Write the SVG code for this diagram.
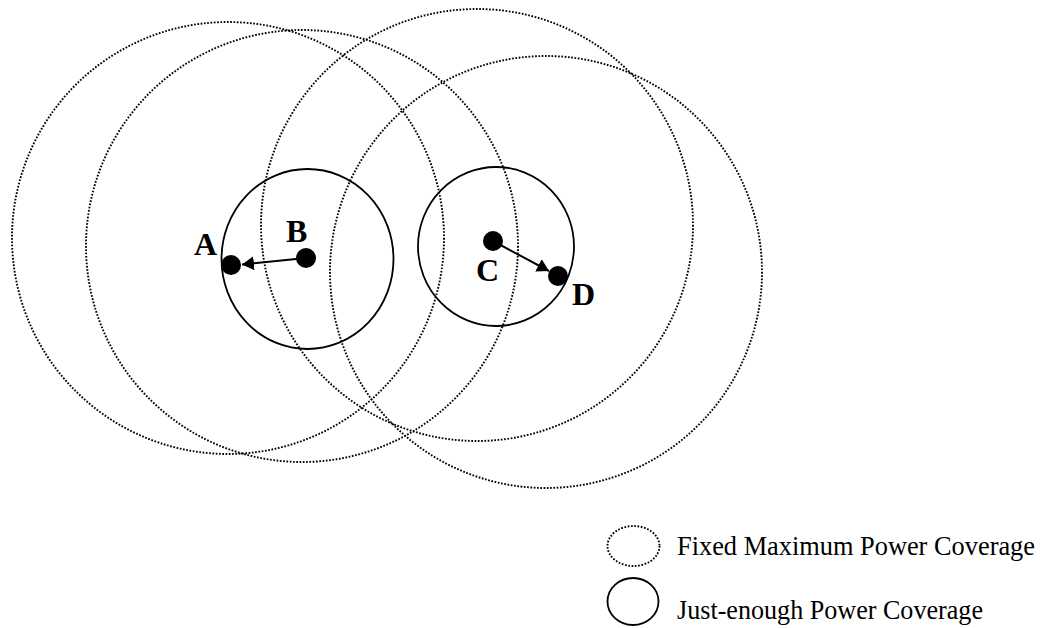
<svg xmlns="http://www.w3.org/2000/svg" width="1048" height="628" viewBox="0 0 1048 628">
<style>
.max{fill:none;stroke:#000;stroke-width:1.9;stroke-dasharray:1.7 1.6}
.just{fill:none;stroke:#000;stroke-width:1.8}
.node{fill:#000}
.lbl{font-family:"Liberation Serif","Times New Roman",serif;font-weight:bold;font-size:32px;fill:#000}
.leg{font-family:"Liberation Serif","Times New Roman",serif;font-size:27px;fill:#000}
.conn{stroke:#000;stroke-width:2;fill:none}
</style>
<defs>
<marker id="ah" markerUnits="userSpaceOnUse" markerWidth="14" markerHeight="14" refX="12" refY="7" orient="auto">
<path d="M0,0 L12,7 L0,14 z" fill="#000"/>
</marker>
</defs>
<g id="coverage-max">
<circle class="max" cx="228" cy="238" r="216"/>
<circle class="max" cx="302" cy="246" r="216"/>
<circle class="max" cx="477" cy="225" r="216"/>
<circle class="max" cx="546" cy="272" r="216"/>
</g>
<g id="coverage-just">
<ellipse class="just" cx="307.5" cy="259" rx="86" ry="90"/>
<ellipse class="just" cx="496" cy="246.5" rx="78" ry="79.5"/>
</g>
<g id="connectors">
<line class="conn" x1="306" y1="258" x2="242" y2="264.5" marker-end="url(#ah)"/>
<line class="conn" x1="493" y1="241" x2="549" y2="271" marker-end="url(#ah)"/>
</g>
<g id="node-A">
<circle class="node" cx="231" cy="265" r="10"/>
<text class="lbl" x="194" y="255">A</text>
</g>
<g id="node-B">
<circle class="node" cx="306" cy="258" r="10"/>
<text class="lbl" x="286" y="242">B</text>
</g>
<g id="node-C">
<circle class="node" cx="493" cy="241" r="10"/>
<text class="lbl" x="476" y="281">C</text>
</g>
<g id="node-D">
<circle class="node" cx="558" cy="276" r="10"/>
<text class="lbl" x="572" y="305">D</text>
</g>
<g id="legend">
<ellipse class="max" cx="633.5" cy="546" rx="26" ry="20"/>
<text class="leg" x="677" y="555" textLength="358" lengthAdjust="spacingAndGlyphs">Fixed Maximum Power Coverage</text>
<ellipse class="just" cx="633" cy="601.5" rx="25.5" ry="23.5"/>
<text class="leg" x="677" y="619" textLength="306" lengthAdjust="spacingAndGlyphs">Just-enough Power Coverage</text>
</g>
</svg>
